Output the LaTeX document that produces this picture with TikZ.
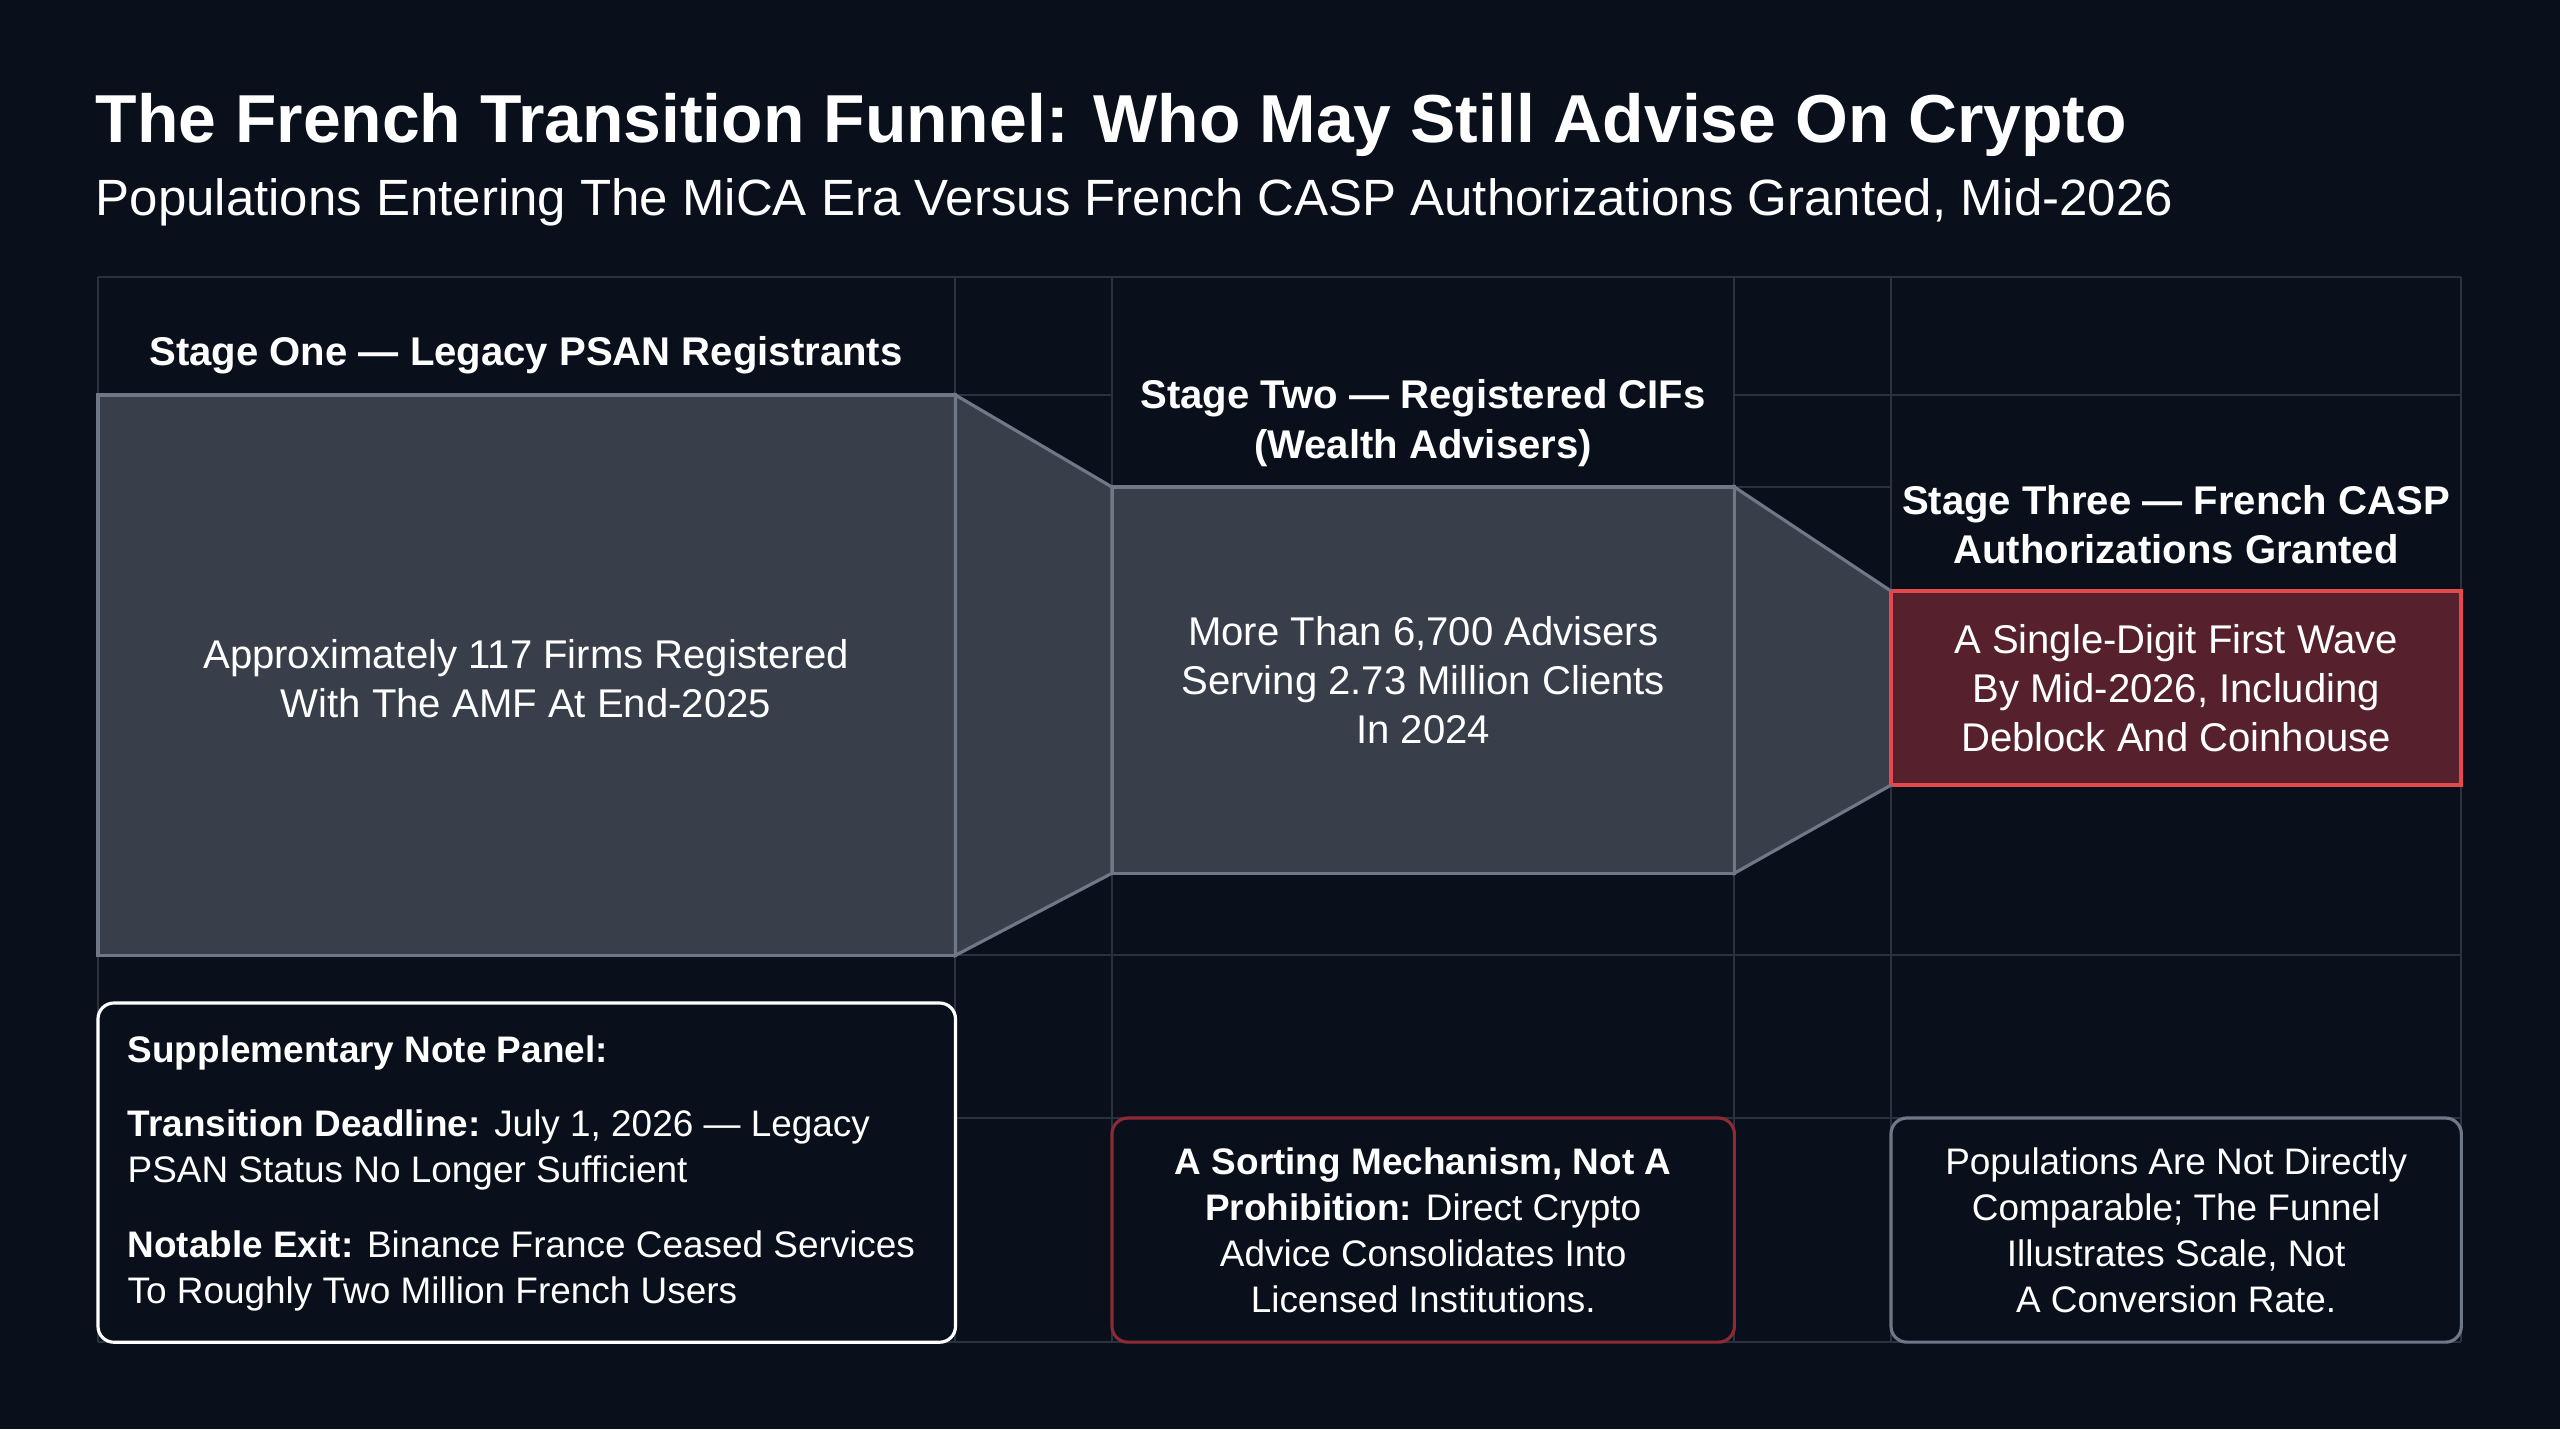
\documentclass[tikz,border=0pt]{standalone}
\usepackage{fontspec}
\setmainfont{Liberation Sans}
\definecolor{bg}{HTML}{0A101B}
\definecolor{gridc}{HTML}{29323E}
\definecolor{slate}{HTML}{383F4B}
\definecolor{edge}{HTML}{6E7886}
\definecolor{alert}{HTML}{E5484D}
\definecolor{wine}{HTML}{56202C}
\definecolor{darkred}{HTML}{8E2A33}

\begin{document}
\begin{tikzpicture}[x=0.01cm,y=-0.01cm,
  stage/.style={draw=edge,line width=0.9pt,fill=slate,inner sep=0pt,outer sep=0pt,anchor=north west},
  notebox/.style={rounded corners=4.5pt,line width=0.9pt,fill=bg,inner sep=0pt,outer sep=0pt,anchor=north west},
  hdr/.style={text=white,align=center,font=\bfseries\fontsize{11.4}{14}\selectfont},
  body/.style={text=white,align=center,font=\fontsize{11.4}{14}\selectfont},
  notetxt/.style={text=white,font=\fontsize{10.5}{13.1}\selectfont}]
\fill[bg] (0,0) rectangle (2560,1429);
\useasboundingbox (0,0) rectangle (2560,1429);

% title
\node[anchor=base west,text=white,inner sep=0pt,font=\bfseries\fontsize{19.3}{23}\selectfont] (title) at (95,142)
  {The French Transition Funnel: Who May Still Advise On Crypto};
\node[anchor=base west,text=white,inner sep=0pt,font=\fontsize{14.5}{18}\selectfont] (subtitle) at (95,215)
  {Populations Entering The MiCA Era Versus French CASP Authorizations Granted, Mid-2026};

% layout grid
\begin{scope}[draw=gridc,line width=0.6pt]
\foreach \gx in {98,955,1112,1734,1891,2461}
  \draw (\gx,277) -- (\gx,1342);
\draw (98,277) -- (2461,277);
\draw (98,395) -- (1112,395) (1734,395) -- (2461,395);
\draw (955,487) -- (1891,487);
\draw (98,955) -- (2461,955);
\draw (955,1118) -- (2461,1118);
\draw (98,1342) -- (2461,1342);
\end{scope}

% stages
\node[stage,minimum width=8.57cm,minimum height=5.6cm] (psan) at (98,395) {};
\node[stage,minimum width=6.22cm,minimum height=3.86cm] (cif) at (1112,487) {};
\node[stage,draw=alert,fill=wine,line width=1.1pt,minimum width=5.7cm,minimum height=1.94cm] (casp) at (1891,591) {};

% funnel necks
\filldraw[fill=slate,draw=edge,line width=0.9pt] (psan.north east) -- (cif.north west) -- (cif.south west) -- (psan.south east) -- cycle;
\filldraw[fill=slate,draw=edge,line width=0.9pt] (cif.north east) -- (casp.north west) -- (casp.south west) -- (cif.south east) -- cycle;
\draw[alert,line width=1.1pt] (casp.north west) -- (casp.south west);

\node[hdr] (psanhdr) at (526,355) {Stage One — Legacy PSAN Registrants};
\node[hdr] (cifhdr) at (1423,423) {Stage Two — Registered CIFs\\(Wealth Advisers)};
\node[hdr] (casphdr) at (2176,525) {Stage Three — French CASP\\Authorizations Granted};

\node[body] (psanlbl) at (526,679) {Approximately 117 Firms Registered\\With The AMF At End-2025};
\node[body] (ciflbl) at (cif) {More Than 6,700 Advisers\\Serving 2.73 Million Clients\\In 2024};
\node[body] (casplbl) at (casp) {A Single-Digit First Wave\\By Mid-2026, Including\\Deblock And Coinhouse};

% notes
\node[notebox,draw=white,minimum width=8.57cm,minimum height=3.39cm] (suppl) at (98,1003) {};
\node[notebox,draw=darkred,minimum width=6.22cm,minimum height=2.24cm] (sorting) at (1112,1118) {};
\node[notebox,draw=edge,minimum width=5.7cm,minimum height=2.24cm] (scale) at (1891,1118) {};

\node[notetxt,anchor=west,inner sep=0pt,font=\bfseries\fontsize{10.5}{13.1}\selectfont] (supplhd) at (127,1053) {Supplementary Note Panel:};
\node[notetxt,anchor=west,inner sep=0pt,align=left] (deadline) at (127,1150)
  {\textbf{Transition Deadline:} July 1, 2026 — Legacy\\PSAN Status No Longer Sufficient};
\node[notetxt,anchor=west,inner sep=0pt,align=left] (exit) at (127,1271)
  {\textbf{Notable Exit:} Binance France Ceased Services\\To Roughly Two Million French Users};
\node[notetxt,align=center] (sortinglbl) at (sorting)
  {\textbf{A Sorting Mechanism, Not A}\\\textbf{Prohibition:} Direct Crypto\\Advice Consolidates Into\\Licensed Institutions.};
\node[notetxt,align=center] (scalelbl) at (scale)
  {Populations Are Not Directly\\Comparable; The Funnel\\Illustrates Scale, Not\\A Conversion Rate.};
\end{tikzpicture}
\end{document}
